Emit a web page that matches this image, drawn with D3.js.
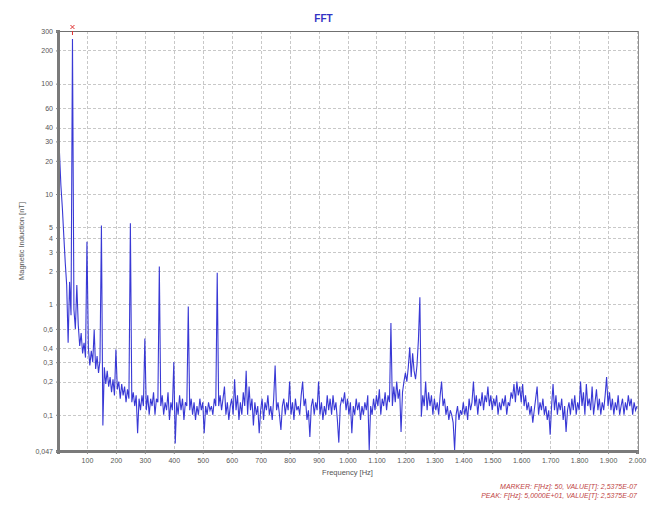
<!DOCTYPE html>
<html>
<head>
<meta charset="utf-8">
<script src="https://cdn.jsdelivr.net/npm/d3@7"></script>
<style>
  body { margin: 0; background: #fff; }
  svg { display: block; font-family: "Liberation Sans", Arial, sans-serif; }
</style>
</head>
<body>
<svg id="chart"></svg>
<script>
// spectrum, one value every 5 Hz from 0 to 2000 Hz (nT)
const freqStep = 5;
const induction = [
  33, 24, 12, 7.5, 4.2, 2.4, 1.5, 0.45, 1.6, 0.8, 253.75, 0.9, 0.6, 1.5, 0.65, 0.42, 0.55, 0.36, 0.45, 0.33,
  3.7, 0.4, 0.28, 0.38, 0.3, 0.59, 0.26, 0.34, 0.24, 0.31, 5.2, 0.08, 0.27, 0.19, 0.25, 0.18, 0.22, 0.16, 0.21, 0.15,
  0.39, 0.17, 0.2, 0.14, 0.19, 0.15, 0.18, 0.13, 0.17, 0.14, 5.45, 0.13, 0.16, 0.12, 0.15, 0.068, 0.14, 0.11, 0.15, 0.12,
  0.49, 0.11, 0.15, 0.1, 0.14, 0.12, 0.16, 0.1, 0.14, 0.13, 2.2, 0.12, 0.15, 0.1, 0.13, 0.11, 0.16, 0.09, 0.13, 0.11,
  0.3, 0.055, 0.13, 0.1, 0.15, 0.11, 0.14, 0.09, 0.13, 0.12, 0.96, 0.11, 0.14, 0.1, 0.13, 0.09, 0.12, 0.1, 0.14, 0.11,
  0.13, 0.068, 0.12, 0.1, 0.13, 0.11, 0.12, 0.1, 0.14, 0.12, 1.94, 0.12, 0.15, 0.11, 0.14, 0.18, 0.1, 0.13, 0.09, 0.12,
  0.14, 0.1, 0.21, 0.11, 0.15, 0.09, 0.13, 0.1, 0.16, 0.12, 0.25, 0.1, 0.18, 0.11, 0.14, 0.08, 0.13, 0.1, 0.12, 0.068,
  0.11, 0.14, 0.09, 0.13, 0.11, 0.15, 0.1, 0.12, 0.09, 0.14, 0.28, 0.11, 0.13, 0.1, 0.073, 0.12, 0.14, 0.1, 0.13, 0.11,
  0.2, 0.1, 0.13, 0.09, 0.14, 0.11, 0.12, 0.1, 0.15, 0.2, 0.12, 0.14, 0.09, 0.11, 0.063, 0.12, 0.14, 0.1, 0.13, 0.11,
  0.2, 0.1, 0.13, 0.09, 0.12, 0.1, 0.15, 0.11, 0.14, 0.1, 0.15, 0.11, 0.13, 0.09, 0.056, 0.12, 0.14, 0.13, 0.16, 0.11,
  0.14, 0.1, 0.13, 0.068, 0.12, 0.1, 0.14, 0.11, 0.13, 0.09, 0.12, 0.1, 0.13, 0.11, 0.15, 0.048, 0.12, 0.1, 0.14, 0.11,
  0.15, 0.12, 0.17, 0.1, 0.14, 0.12, 0.16, 0.11, 0.15, 0.13, 0.68, 0.12, 0.18, 0.13, 0.2, 0.14, 0.17, 0.07, 0.16, 0.2,
  0.24, 0.2, 0.27, 0.41, 0.22, 0.36, 0.25, 0.21, 0.28, 0.48, 1.16, 0.096, 0.15, 0.12, 0.2, 0.11, 0.16, 0.12, 0.15, 0.1,
  0.14, 0.11, 0.13, 0.1, 0.15, 0.2, 0.12, 0.14, 0.1, 0.12, 0.09, 0.11, 0.1, 0.085, 0.048, 0.1, 0.12, 0.09, 0.11, 0.1,
  0.13, 0.1, 0.12, 0.09, 0.14, 0.11, 0.13, 0.2, 0.12, 0.15, 0.1, 0.14, 0.12, 0.16, 0.11, 0.15, 0.13, 0.18, 0.12, 0.15,
  0.11, 0.14, 0.12, 0.15, 0.1, 0.13, 0.11, 0.14, 0.12, 0.15, 0.1, 0.13, 0.12, 0.16, 0.14, 0.19, 0.13, 0.2, 0.15, 0.18,
  0.13, 0.19, 0.12, 0.15, 0.11, 0.13, 0.1, 0.12, 0.085, 0.11, 0.14, 0.18, 0.1, 0.13, 0.11, 0.14, 0.1, 0.12, 0.09, 0.11,
  0.066, 0.12, 0.19, 0.11, 0.15, 0.1, 0.13, 0.11, 0.14, 0.09, 0.12, 0.07, 0.11, 0.13, 0.1, 0.14, 0.11, 0.15, 0.1, 0.13,
  0.11, 0.2, 0.12, 0.16, 0.1, 0.19, 0.12, 0.14, 0.11, 0.18, 0.1, 0.13, 0.17, 0.11, 0.14, 0.1, 0.13, 0.11, 0.15, 0.22,
  0.12, 0.16, 0.11, 0.14, 0.1, 0.13, 0.11, 0.15, 0.1, 0.12, 0.14, 0.1, 0.13, 0.11, 0.15, 0.12, 0.14, 0.1, 0.13, 0.11,
  0.12
];

const xTicks = [100, 200, 300, 400, 500, 600, 700, 800, 900, 1000, 1100, 1200, 1300, 1400, 1500, 1600, 1700, 1800, 1900, 2000];
const yTicks = [0.047, 0.1, 0.2, 0.3, 0.4, 0.6, 1, 2, 3, 4, 5, 10, 20, 30, 40, 60, 100, 200, 300];

const markerFreq = 50;
const markerLines = [
  "MARKER: F[Hz]: 50, VALUE[T]: 2,5375E-07",
  "PEAK: F[Hz]: 5,0000E+01, VALUE[T]: 2,5375E-07"
];

const width = 647;
const height = 507;
const plotLeft = 58, plotRight = 637, plotTop = 31, plotBottom = 451;

const svg = d3.select("#chart")
  .attr("width", width)
  .attr("height", height);

const data = induction.map((v, i) => ({ f: i * freqStep, v: v }));

const x = d3.scaleLinear().domain([0, 2000]).range([plotLeft, plotRight]);
const y = d3.scaleLog().domain([0.047, 300]).range([plotBottom, plotTop]);

// number formats: decimal comma, dot for thousands
const fmtX = d => d3.format(",")(d).replace(/,/g, ".");
const fmtY = d => String(d).replace(".", ",");

// grid
const grid = svg.append("g")
  .attr("stroke", "#c8c8c8")
  .attr("stroke-width", 1)
  .attr("stroke-dasharray", "3,2");

grid.selectAll(".vg")
  .data(xTicks)
  .enter()
  .append("line")
  .attr("x1", d => Math.round(x(d)) + 0.5)
  .attr("x2", d => Math.round(x(d)) + 0.5)
  .attr("y1", plotTop)
  .attr("y2", plotBottom);

grid.selectAll(".hg")
  .data(yTicks.slice(1, -1))
  .enter()
  .append("line")
  .attr("x1", plotLeft)
  .attr("x2", plotRight)
  .attr("y1", d => Math.round(y(d)) + 0.5)
  .attr("y2", d => Math.round(y(d)) + 0.5);

// spectrum line
svg.append("path")
  .datum(data)
  .attr("fill", "none")
  .attr("stroke", "#2424d0")
  .attr("stroke-width", 1.1)
  .attr("stroke-opacity", 0.9)
  .attr("d", d3.line().x(d => x(d.f)).y(d => y(d.v)));

// frame
svg.append("line")
  .attr("x1", plotLeft).attr("x2", plotRight + 1)
  .attr("y1", plotTop + 0.5).attr("y2", plotTop + 0.5)
  .attr("stroke", "#707070");
svg.append("line")
  .attr("x1", plotRight + 1.5).attr("x2", plotRight + 1.5)
  .attr("y1", plotTop).attr("y2", plotBottom)
  .attr("stroke", "#909090");

// axes (thick grey bars)
const xAxis = svg.append("g")
  .attr("transform", `translate(0,${plotBottom})`)
  .call(d3.axisBottom(x).tickValues(xTicks).tickFormat(fmtX).tickSize(3));
xAxis.select(".domain").attr("stroke", "#7a7a7a").attr("stroke-width", 3);
xAxis.selectAll(".tick line").attr("stroke", "#888");
xAxis.selectAll("text")
  .attr("fill", "#555")
  .attr("font-size", 7)
  .attr("dy", "0.9em");

const yAxis = svg.append("g")
  .attr("transform", `translate(${plotLeft},0)`)
  .call(d3.axisLeft(y).tickValues(yTicks).tickFormat(fmtY).tickSize(2));
yAxis.select(".domain").attr("stroke", "#7a7a7a").attr("stroke-width", 3);
yAxis.selectAll(".tick line").attr("stroke", "#888");
yAxis.selectAll("text")
  .attr("fill", "#555")
  .attr("font-size", 7)
  .attr("x", -5);

// titles
svg.append("text")
  .attr("x", width / 2)
  .attr("y", 22)
  .attr("text-anchor", "middle")
  .attr("font-size", 10)
  .attr("font-weight", "bold")
  .attr("fill", "#3333c4")
  .text("FFT");

svg.append("text")
  .attr("x", (plotLeft + plotRight) / 2)
  .attr("y", 475)
  .attr("text-anchor", "middle")
  .attr("font-size", 7.5)
  .attr("fill", "#555")
  .text("Frequency [Hz]");

svg.append("text")
  .attr("transform", `translate(24,${(plotTop + plotBottom) / 2}) rotate(-90)`)
  .attr("text-anchor", "middle")
  .attr("font-size", 7.5)
  .attr("fill", "#555")
  .text("Magnetic Induction [nT]");

// marker on the peak
const mx = x(markerFreq);
svg.append("path")
  .attr("d", `M${mx - 2},25 L${mx + 2},29 M${mx + 2},25 L${mx - 2},29 M${mx},31 L${mx},35`)
  .attr("stroke", "#e03030")
  .attr("stroke-width", 1);

// marker readout
svg.selectAll(".readout")
  .data(markerLines)
  .enter()
  .append("text")
  .attr("class", "readout")
  .attr("x", plotRight)
  .attr("y", (d, i) => 489 + i * 9)
  .attr("text-anchor", "end")
  .attr("font-size", 7)
  .attr("font-style", "italic")
  .attr("fill", "#c04444")
  .text(d => d);
</script>
</body>
</html>
